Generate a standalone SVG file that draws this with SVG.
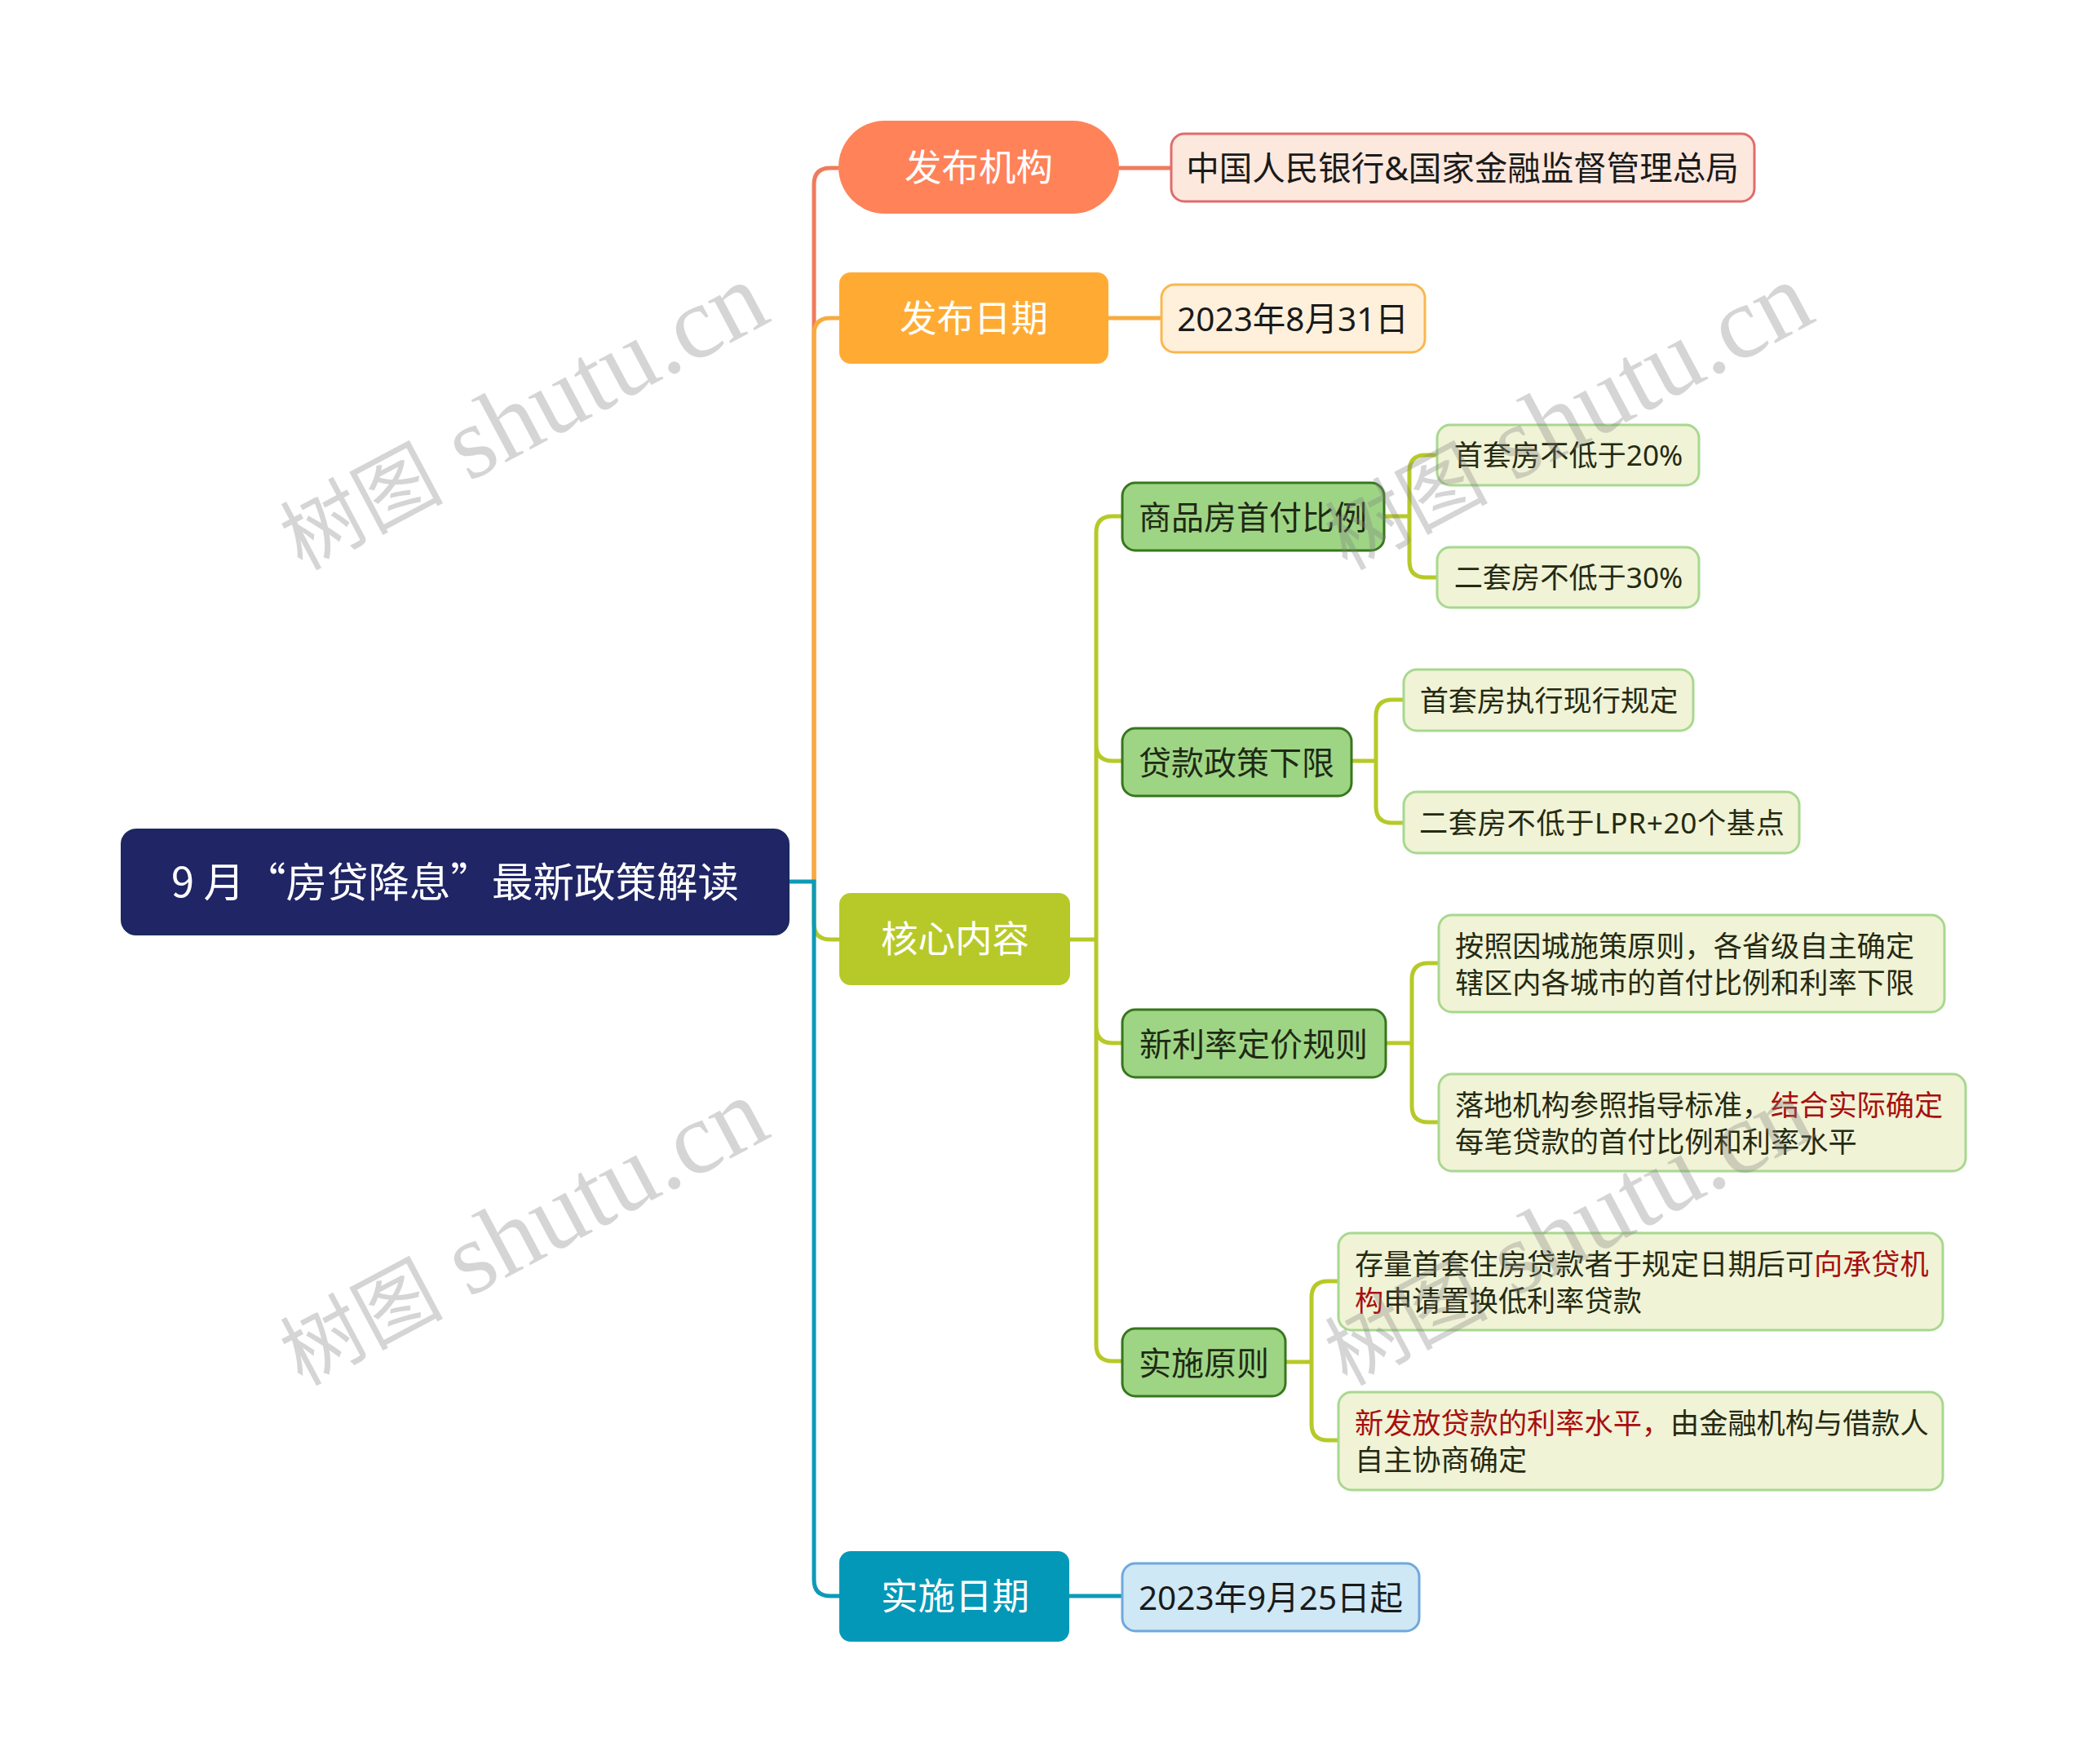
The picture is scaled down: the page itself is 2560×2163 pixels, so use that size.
<svg xmlns="http://www.w3.org/2000/svg" width="2560" height="2163" viewBox="0 0 2560 2163">
<style>
text{font-family:"Noto Sans","Noto Sans CJK SC",sans-serif}
.c{text-anchor:middle}
.root rect{fill:#1f2565;stroke:#1c2a5c;stroke-width:2}
.root text{font-family:"Noto Sans CJK SC","Noto Sans",sans-serif;font-size:50.5px;fill:#fff}
.l2 text{font-size:45.5px;fill:#fff}
.l3 rect{fill:#9ed585;stroke:#38761d;stroke-width:3}
.l3 text{font-size:40px;fill:#1f2a14}
.leaf rect{fill:#f0f3d6;stroke:#a8d88f;stroke-width:3}
.leaf text{font-size:35.2px;fill:#252a12}
.kid text{font-size:40.5px;fill:#1a1a1a}
.r{fill:#a80f0f}
.wire{fill:none;stroke-width:5}
.wm text{font-family:"Liberation Serif","Noto Sans CJK SC",serif;font-size:126px;fill:#7f7f7f;opacity:.32}
.wm tspan{font-size:100px}
</style>
<g id="connectors">
<path class="wire" stroke="#ee7b5b" d="M998 1081V226Q998 206 1018 206H1028M1371 206H1435"/>
<path class="wire" stroke="#f7ab3e" d="M998 1081V410Q998 390 1018 390H1030M1359 390H1423"/>
<path class="wire" stroke="#b7c928" d="M998 1081V1132Q998 1152 1018 1152H1030M1312 1152H1344M1364 633Q1344 633 1344 653V1649Q1344 1669 1364 1669H1376M1344 913Q1344 933 1364 933H1375M1344 1258Q1344 1279 1364 1279H1376M1364 633H1375M1696 633H1728M1762 558H1748Q1728 558 1728 578V688Q1728 708 1748 708H1762M1657 933H1687M1721 858H1707Q1687 858 1687 878V989Q1687 1009 1707 1009H1721M1699 1279H1731M1764 1181H1751Q1731 1181 1731 1201V1356Q1731 1376 1751 1376H1764M1576 1670H1608M1641 1571H1628Q1608 1571 1608 1591V1746Q1608 1766 1628 1766H1641"/>
<path class="wire" stroke="#0d9ab8" d="M967 1081H998V1937Q998 1957 1018 1957H1030M1311 1957H1375"/>
</g>
<g id="root" class="root"><rect x="149" y="1017" width="818" height="129" rx="18"/><text class="c" x="558" y="1100">9 月“房贷降息”最新政策解读</text></g>
<g id="n1" class="l2"><rect x="1028" y="148" width="344" height="114" rx="57" fill="#ff8259"/><text class="c" x="1200" y="222">发布机构</text></g>
<g id="n1a" class="kid"><rect x="1436" y="164" width="715" height="83" rx="16" fill="#fde8dd" stroke="#e06c6c" stroke-width="3"/><text class="c" x="1793" y="221">中国人民银行&amp;国家金融监督管理总局</text></g>
<g id="n2" class="l2"><rect x="1029" y="334" width="330" height="112" rx="14" fill="#ffab33"/><text class="c" x="1194" y="407">发布日期</text></g>
<g id="n2a" class="kid"><rect x="1424" y="349" width="323" height="83" rx="16" fill="#fff0dc" stroke="#f9b74f" stroke-width="3"/><text class="c" x="1585" y="406">2023年8月31日</text></g>
<g id="n3" class="l2"><rect x="1029" y="1095" width="283" height="113" rx="14" fill="#b7c928"/><text class="c" x="1171" y="1168">核心内容</text></g>
<g id="n31" class="l3"><rect x="1376" y="592" width="321" height="83" rx="16"/><text class="c" x="1536" y="649">商品房首付比例</text></g>
<g id="n311" class="leaf"><rect x="1762" y="521" width="321" height="74" rx="16"/><text class="c" x="1923" y="571">首套房不低于20%</text></g>
<g id="n312" class="leaf"><rect x="1762" y="671" width="321" height="74" rx="16"/><text class="c" x="1923" y="721">二套房不低于30%</text></g>
<g id="n32" class="l3"><rect x="1376" y="893" width="281" height="83" rx="16"/><text class="c" x="1516" y="950">贷款政策下限</text></g>
<g id="n321" class="leaf"><rect x="1721" y="821" width="355" height="75" rx="16"/><text class="c" x="1899" y="872">首套房执行现行规定</text></g>
<g id="n322" class="leaf"><rect x="1721" y="971" width="485" height="75" rx="16"/><text class="c" x="1964" y="1022" textLength="448" lengthAdjust="spacing">二套房不低于LPR+20个基点</text></g>
<g id="n33" class="l3"><rect x="1376" y="1238" width="323" height="83" rx="16"/><text class="c" x="1537" y="1295">新利率定价规则</text></g>
<g id="n331" class="leaf"><rect x="1764" y="1122" width="620" height="119" rx="16"/><text x="1784" y="1173">按照因城施策原则，各省级自主确定</text><text x="1784" y="1218">辖区内各城市的首付比例和利率下限</text></g>
<g id="n332" class="leaf"><rect x="1764" y="1317" width="646" height="119" rx="16"/><text x="1784" y="1368">落地机构参照指导标准，<tspan class="r">结合实际确定</tspan></text><text x="1784" y="1413">每笔贷款的首付比例和利率水平</text></g>
<g id="n34" class="l3"><rect x="1376" y="1629" width="200" height="83" rx="16"/><text class="c" x="1476" y="1686">实施原则</text></g>
<g id="n341" class="leaf"><rect x="1641" y="1512" width="741" height="119" rx="16"/><text x="1661" y="1563">存量首套住房贷款者于规定日期后可<tspan class="r">向承贷机</tspan></text><text x="1661" y="1608"><tspan class="r">构</tspan>申请置换低利率贷款</text></g>
<g id="n342" class="leaf"><rect x="1641" y="1707" width="741" height="120" rx="16"/><text x="1661" y="1758"><tspan class="r">新发放贷款的利率水平，</tspan>由金融机构与借款人</text><text x="1661" y="1803">自主协商确定</text></g>
<g id="n4" class="l2"><rect x="1029" y="1902" width="282" height="111" rx="14" fill="#0398b8"/><text class="c" x="1171" y="1974">实施日期</text></g>
<g id="n4a" class="kid"><rect x="1376" y="1917" width="364" height="83" rx="16" fill="#cfe8f5" stroke="#6fa8dc" stroke-width="3"/><text class="c" x="1558" y="1974">2023年9月25日起</text></g>
<g id="watermarks" class="wm">
<text transform="translate(370 700) rotate(-28)"><tspan>树图</tspan> shutu.cn</text>
<text transform="translate(1651 700) rotate(-28)"><tspan>树图</tspan> shutu.cn</text>
<text transform="translate(370 1700) rotate(-28)"><tspan>树图</tspan> shutu.cn</text>
<text transform="translate(1651 1700) rotate(-28)"><tspan>树图</tspan> shutu.cn</text>
</g>
</svg>
